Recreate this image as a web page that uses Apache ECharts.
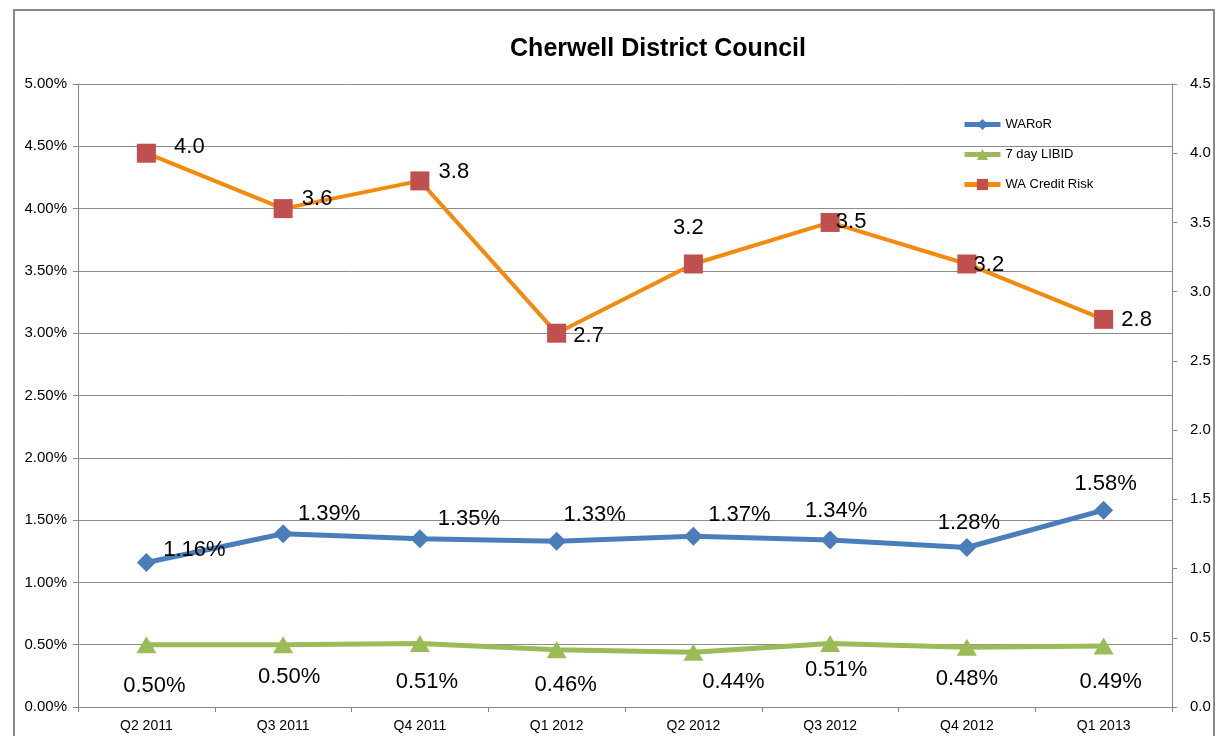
<!DOCTYPE html>
<html>
<head>
<meta charset="utf-8">
<script src="https://cdn.jsdelivr.net/npm/echarts@6/dist/echarts.min.js"></script>
<style>html,body{margin:0;padding:0;background:#fff}#c{width:1220px;height:736px}</style>
</head>
<body>
<div id="c"></div>
<script>
const categories = ['Q2 2011','Q3 2011','Q4 2011','Q1 2012','Q2 2012','Q3 2012','Q4 2012','Q1 2013'];
const waror = [1.16, 1.39, 1.35, 1.33, 1.37, 1.34, 1.28, 1.58];
const libid = [0.50, 0.50, 0.51, 0.46, 0.44, 0.51, 0.48, 0.49];
const creditRisk = [4.0, 3.6, 3.8, 2.7, 3.2, 3.5, 3.2, 2.8];

const warorLabelOffsets = [[48,-13],[46,-20],[49,-20],[38,-26],[46,-21],[6,-29],[2,-25],[2,-26]];
const libidLabelOffsets = [[8,41],[6,32],[7,38],[9,35],[40,30],[6,26],[0,32],[7,36]];
const creditLabelOffsets = [[43,-6],[34,-10],[34,-9],[32,3],[-5,-36],[21,-1],[22,1],[33,1]];

const FONT = 'Liberation Sans, Arial, sans-serif';

function build(values, offs, fmt) {
  return values.map((v, i) => ({
    value: v,
    label: { show: true, position: 'inside', offset: offs[i], formatter: fmt(v) }
  }));
}

const chart = echarts.init(document.getElementById('c'), null, {renderer: 'canvas'});
const labelStyle = { color: '#000', fontSize: 22, fontFamily: FONT };

chart.setOption({
  animation: false,
  backgroundColor: '#fff',
  title: {
    text: 'Cherwell District Council',
    left: 653, top: 32, textAlign: 'center',
    textStyle: { fontFamily: FONT, fontWeight: 'bold', fontSize: 25, color: '#000' }
  },
  graphic: [{
    type: 'rect', shape: { x: 14, y: 10, width: 1200, height: 740 },
    style: { fill: 'none', stroke: '#8a8a8a', lineWidth: 2 }, silent: true, z: -1
  }],
  legend: {
    orient: 'vertical', left: 957, top: 113, itemGap: 17, itemWidth: 36, itemHeight: 14,
    textStyle: { fontFamily: FONT, fontSize: 13, color: '#000' },
    lineStyle: { width: 5 },
    data: ['WARoR', '7 day LIBID', 'WA Credit Risk']
  },
  grid: { left: 78, right: 48, top: 84, bottom: 29, containLabel: false },
  xAxis: {
    type: 'category', data: categories, boundaryGap: true,
    axisLine: { lineStyle: { color: '#868686', width: 1 } },
    axisTick: { show: true, length: 5, lineStyle: { color: '#868686' } },
    axisLabel: { color: '#000', fontSize: 14, fontFamily: FONT, margin: 12 },
    splitLine: { show: false }
  },
  yAxis: [{
    type: 'value', min: 0, max: 5, interval: 0.5,
    axisLine: { show: true, lineStyle: { color: '#868686', width: 1 } },
    axisTick: { show: true, length: 5, lineStyle: { color: '#868686' } },
    axisLabel: { color: '#000', fontSize: 15, fontFamily: FONT, margin: 11, formatter: v => v.toFixed(2) + '%' },
    splitLine: { show: true, lineStyle: { color: '#8c8c8c', width: 1 } }
  }, {
    type: 'value', min: 0, max: 4.5, interval: 0.5, position: 'right',
    axisLine: { show: true, lineStyle: { color: '#868686', width: 1 } },
    axisTick: { show: true, length: 5, lineStyle: { color: '#868686' } },
    axisLabel: { color: '#000', fontSize: 15, fontFamily: FONT, margin: 18, formatter: v => v.toFixed(1) },
    splitLine: { show: false }
  }],
  series: [{
    name: 'WARoR', type: 'line', yAxisIndex: 0,
    data: build(waror, warorLabelOffsets, v => v.toFixed(2) + '%'),
    symbol: 'diamond', symbolSize: 19,
    lineStyle: { color: '#4A7EBB', width: 5 },
    itemStyle: { color: '#4A7EBB' },
    label: labelStyle, z: 3
  }, {
    name: '7 day LIBID', type: 'line', yAxisIndex: 0,
    data: build(libid, libidLabelOffsets, v => v.toFixed(2) + '%'),
    symbol: 'triangle', symbolSize: [20, 17],
    lineStyle: { color: '#9BBB59', width: 5 },
    itemStyle: { color: '#9BBB59' },
    label: labelStyle, z: 3
  }, {
    name: 'WA Credit Risk', type: 'line', yAxisIndex: 1,
    data: build(creditRisk, creditLabelOffsets, v => v.toFixed(1)),
    symbol: 'rect', symbolSize: 19,
    lineStyle: { color: '#F28A0C', width: 4 },
    itemStyle: { color: '#C0504D' },
    label: labelStyle, z: 3
  }]
});
</script>
</body>
</html>
